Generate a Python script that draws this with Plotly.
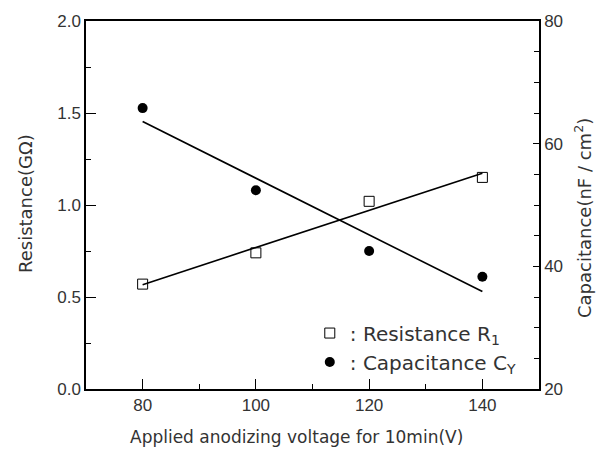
import numpy as np
import plotly.graph_objects as go

voltage = [80, 100, 120, 140]
resistance = [0.57, 0.74, 1.02, 1.15]
capacitance = [65.8, 52.4, 42.5, 38.3]

x_ticks = [80, 100, 120, 140]
y1_ticks = [0.0, 0.5, 1.0, 1.5, 2.0]
y1_labels = ["0.0", "0.5", "1.0", "1.5", "2.0"]
y2_ticks = [20, 40, 60, 80]

TICKFONT = "Liberation Sans"
FONT = "DejaVu Sans"
TXT = "#333333"

# plot-area geometry in px (for placing titles as annotations)
L, R, T, B = 86, 539, 21, 389
W, H = R - L, B - T

def px_x(p):
    return (p - L) / W

def px_y(p):
    return (B - p) / H

# least-squares fit lines through the data
xr = np.array([min(voltage), max(voltage)], dtype=float)
pr = np.polyfit(voltage, resistance, 1)
pc = np.polyfit(voltage, capacitance, 1)

fig = go.Figure()
fig.add_trace(go.Scatter(x=xr, y=np.polyval(pr, xr), mode="lines",
                         line=dict(color="black", width=1.6), showlegend=False))
fig.add_trace(go.Scatter(x=xr, y=np.polyval(pc, xr), mode="lines", yaxis="y2",
                         line=dict(color="black", width=1.6), showlegend=False))
fig.add_trace(go.Scatter(x=voltage, y=resistance, mode="markers",
                         name=": Resistance R<sub>1</sub>", legendgroup="a",
                         marker=dict(symbol="square-open", size=10, color="black",
                                     line=dict(width=1))))
fig.add_trace(go.Scatter(x=voltage, y=capacitance, mode="markers", yaxis="y2",
                         name=": Capacitance C<sub>Y</sub>", legendgroup="b",
                         marker=dict(symbol="circle", size=10, color="black")))

axis_common = dict(showline=True, linecolor="black", linewidth=1.5,
                   ticks="inside", tickcolor="black", showgrid=False, zeroline=False,
                   tickfont=dict(family=TICKFONT, size=17, color=TXT))

fig.update_layout(
    width=602, height=454,
    margin=dict(l=L, r=602 - R, t=T, b=454 - B),
    plot_bgcolor="white", paper_bgcolor="white",
    font=dict(family=FONT, color=TXT),
    xaxis=dict(range=[70, 150], tickvals=x_ticks, ticklen=10, tickwidth=1.2,
               mirror=True,
               minor=dict(dtick=10, tick0=70, ticks="inside", ticklen=5, tickcolor="black"),
               **axis_common),
    yaxis=dict(range=[0, 2], tickvals=y1_ticks, ticktext=y1_labels, ticklen=10, tickwidth=1.2,
               minor=dict(dtick=0.25, ticks="inside", ticklen=5, tickcolor="black"),
               **axis_common),
    yaxis2=dict(range=[20, 80], tickvals=y2_ticks, overlaying="y", side="right",
                ticklen=6, tickwidth=1.2,
                minor=dict(dtick=5, ticks="inside", ticklen=5, tickcolor="black"),
                **axis_common),
    legend=dict(x=0.494, y=0.205, xanchor="left", yanchor="top",
                bgcolor="rgba(0,0,0,0)", tracegroupgap=0,
                font=dict(family=FONT, size=20, color=TXT)),
    annotations=[
        dict(text="Applied anodizing voltage for 10min(V)", xref="paper", yref="paper",
             x=px_x(296), y=px_y(437), xanchor="center", yanchor="middle",
             showarrow=False, font=dict(family=FONT, size=17, color=TXT)),
        dict(text="Resistance(GΩ)", xref="paper", yref="paper", textangle=-90,
             x=px_x(25), y=px_y(204), xanchor="center", yanchor="middle",
             showarrow=False, font=dict(family=FONT, size=18, color=TXT)),
        dict(text="Capacitance(nF / cm<sup>2</sup>)", xref="paper", yref="paper",
             textangle=-90,
             x=px_x(583), y=px_y(218), xanchor="center", yanchor="middle",
             showarrow=False, font=dict(family=FONT, size=18, color=TXT)),
    ],
)

fig.write_html("out.html")
